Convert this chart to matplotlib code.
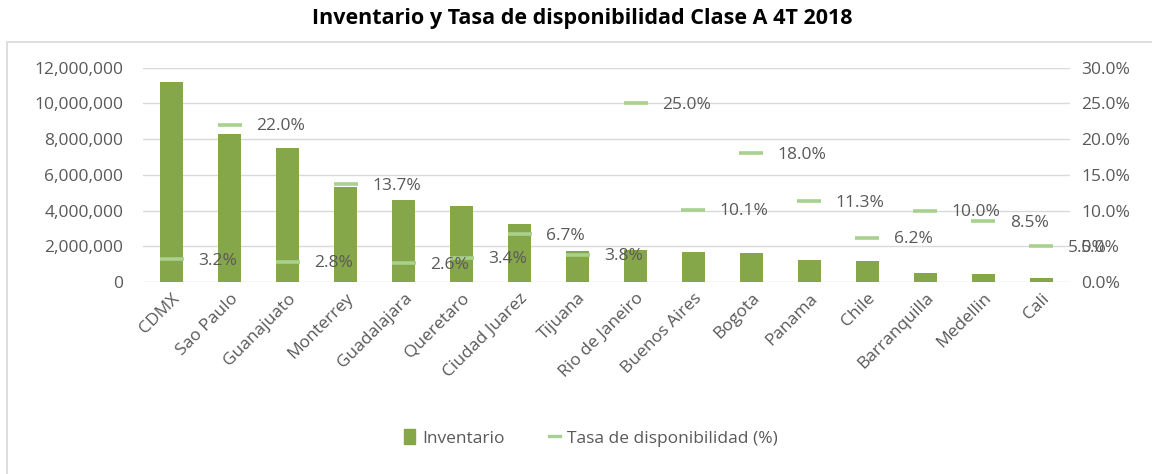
import matplotlib
matplotlib.use("Agg")
import matplotlib.pyplot as plt
from matplotlib.patches import Patch, Rectangle
from matplotlib.lines import Line2D
from matplotlib.ticker import FuncFormatter

plt.rcParams['font.family'] = ['Open Sans', 'DejaVu Sans']

ciudades = ['CDMX', 'Sao Paulo', 'Guanajuato', 'Monterrey', 'Guadalajara',
            'Queretaro', 'Ciudad Juarez', 'Tijuana', 'Rio de Janeiro',
            'Buenos Aires', 'Bogota', 'Panama', 'Chile', 'Barranquilla',
            'Medellin', 'Cali']
inventario = [11200000, 8300000, 7500000, 5300000, 4600000, 4250000,
              3250000, 1750000, 1800000, 1700000, 1600000, 1230000,
              1150000, 520000, 450000, 200000]
tasa = [3.2, 22.0, 2.8, 13.7, 2.6, 3.4, 6.7, 3.8, 25.0, 10.1, 18.0,
        11.3, 6.2, 10.0, 8.5, 5.0]

bar_color = '#86A64A'
dash_color = '#A9D18E'
text_color = '#595959'
grid_color = '#D9D9D9'

fig = plt.figure(figsize=(11.52, 4.74), dpi=100)
ax = fig.add_axes([0.124, 0.405, 0.805, 0.452])
ax2 = ax.twinx()

x = list(range(len(ciudades)))
ax.bar(x, inventario, width=0.4, color=bar_color, zorder=2)
ax.set_ylim(0, 12000000)
ax.set_yticks(range(0, 12000001, 2000000))
ax.yaxis.set_major_formatter(FuncFormatter(lambda v, p: f'{int(v):,}'))
ax.set_xlim(-0.5, len(ciudades) - 0.5)
ax.set_xticks(x)
ax.set_xticklabels(ciudades, rotation=45, ha='right', rotation_mode='anchor')
ax.grid(axis='y', color=grid_color, lw=1, zorder=0)
ax.set_axisbelow(True)

# tasa: dash markers only, no connecting line
ax2.plot(x, tasa, linestyle='none', marker='_', markersize=17,
         markeredgewidth=2.6, color=dash_color, zorder=3)
ax2.set_ylim(0, 30)
ax2.set_yticks(range(0, 31, 5))
ax2.yaxis.set_major_formatter(FuncFormatter(lambda v, p: f'{v:.1f}%'))
for xi, t in zip(x, tasa):
    ax2.annotate(f'{t:.1f}%', (xi, t), xytext=(19, -1), textcoords='offset points',
                 ha='left', va='center', fontsize=12.5, color=text_color,
                 annotation_clip=False)

for a in (ax, ax2):
    for s in a.spines.values():
        s.set_visible(False)
    a.tick_params(length=0, labelsize=12.5, labelcolor=text_color)
ax.tick_params(axis='y', pad=14)
ax.tick_params(axis='x', pad=6)
ax2.tick_params(axis='y', pad=8)

fig.text(0.505, 0.962, 'Inventario y Tasa de disponibilidad Clase A 4T 2018',
         ha='center', va='center', fontsize=15.5, fontweight='bold', color='#000000')

fig.patches.append(Rectangle((0.006, -0.05), 1.2, 1 - 42 / 474 + 0.05,
                             transform=fig.transFigure, fill=False,
                             edgecolor=grid_color, lw=1.2))

handles = [Patch(color=bar_color),
           Line2D([0], [0], color=dash_color, lw=2.4)]
fig.legend(handles, ['Inventario', 'Tasa de disponibilidad (%)'],
           loc='center', bbox_to_anchor=(0.513, 0.076), ncol=2, frameon=False,
           fontsize=12.5, labelcolor=text_color, handlelength=0.6,
           handleheight=0.9, handletextpad=0.4, columnspacing=2.6)

fig.savefig('out.png', dpi=100)
